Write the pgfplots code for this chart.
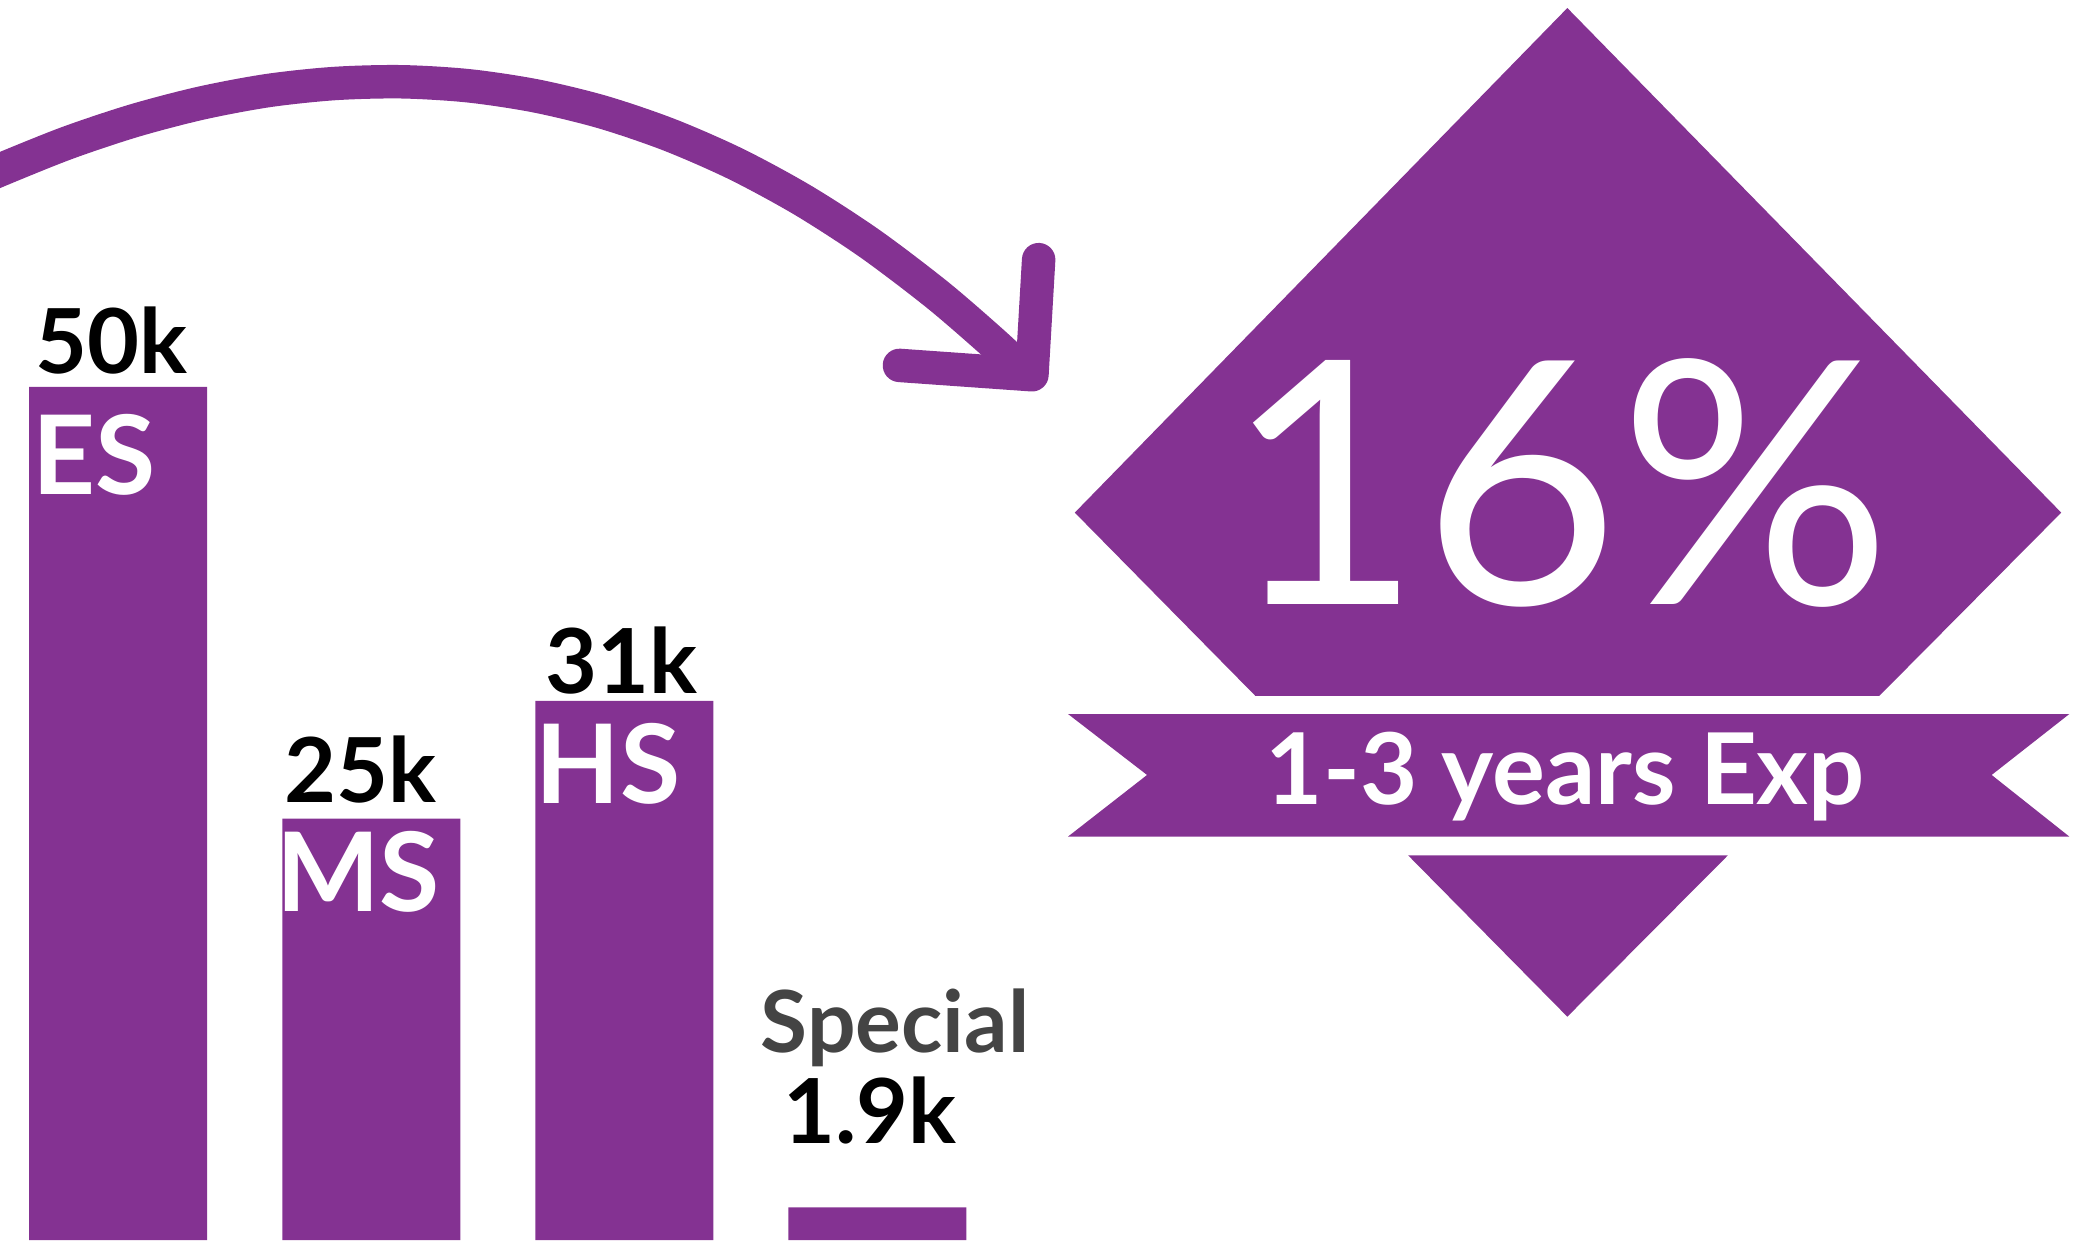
\documentclass[border=0pt]{standalone}
\usepackage{pgfplots}
\pgfplotsset{compat=1.18}
\usepackage{fontspec}
\setmainfont{Lato}
\definecolor{pur}{RGB}{132,50,146}
\definecolor{sgray}{RGB}{68,68,68}
\begin{document}
\begin{tikzpicture}
\useasboundingbox (0,0) rectangle (780pt,464pt);
\begin{axis}[at={(0,0)}, anchor=south west, scale only axis,
  width=780pt, height=464pt, xmin=0, xmax=1560, ymin=-0.118, ymax=72.67,
  hide axis, clip=false]
\addplot[ybar, bar width=133, bar shift=0pt, fill=pur, draw=none]
  coordinates {(88.2,50) (277.5,24.7) (466.5,31.6) (655.5,1.92)};
\end{axis}
\begin{scope}[x=0.5pt,y=-0.5pt,shift={(0,464pt)}]
% curved arrow
\draw[pur, line width=12.5pt, line cap=butt]
  plot[smooth] coordinates {(-20,136) (0,127) (50,106.9) (100,90.2) (150,77.1) (200,67.7) (250,62.4) (300,61.1) (350,64.1) (400,71.6) (450,83.7) (500,100.7) (550,122.6) (600,149.7) (650,182.1) (700,220) (740,254.4) (766,278.5)};
\draw[pur, line width=12.5pt, line cap=round, line join=round]
  (776,194) -- (771,280) -- (672,273);
% diamond
\fill[pur] (1171,6) -- (1540,383) -- (1404,520) -- (938,520) -- (803,383) -- cycle;
% banner
\fill[pur] (798,533.5) -- (1546,533.5) -- (1488,579) -- (1546,625) -- (798,625) -- (857,579) -- cycle;
% lower triangle
\fill[pur] (1052,639) -- (1291,639) -- (1171,759.6) -- cycle;
% texts
\node[anchor=base, inner sep=0, text=white, font=\fontsize{127pt}{127pt}\selectfont] at (1164.5,451.5) {16\%};
\node[anchor=base, inner sep=0, text=white, font=\fontsize{37pt}{37pt}\selectfont\bfseries] at (1169.5,600.7) {1-3 years Exp};
\node[anchor=base west, inner sep=0, font=\fontsize{33.5pt}{33.5pt}\selectfont\bfseries] at (26,279) {50k};
\node[anchor=base west, inner sep=0, text=white, font=\fontsize{41pt}{41pt}\selectfont\bfseries] at (24,369.5) {ES};
\node[anchor=base west, inner sep=0, font=\fontsize{33.5pt}{33.5pt}\selectfont\bfseries] at (212,599.6) {25k};
\node[anchor=base west, inner sep=0, text=white, font=\fontsize{41pt}{41pt}\selectfont\bfseries] at (206,681) {MS};
\node[anchor=base west, inner sep=0, font=\fontsize{33.5pt}{33.5pt}\selectfont\bfseries] at (407,518) {31k};
\node[anchor=base west, inner sep=0, text=white, font=\fontsize{41pt}{41pt}\selectfont\bfseries] at (400,600.6) {HS};
\node[anchor=base west, inner sep=0, text=sgray, font=\fontsize{32pt}{32pt}\selectfont\bfseries] at (568,786) {Special};
\node[anchor=base west, inner sep=0, font=\fontsize{33.5pt}{33.5pt}\selectfont\bfseries] at (585,854.6) {1.9k};
\end{scope}
\end{tikzpicture}
\end{document}
